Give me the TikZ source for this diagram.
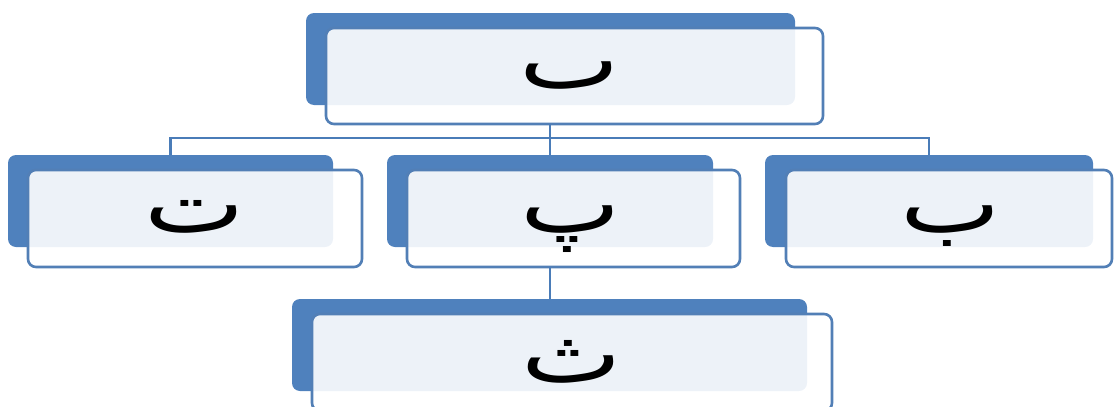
\documentclass[tikz,border=0pt]{standalone}
\usepackage{fontspec}
\newfontfamily\arabicfont[Script=Arabic]{DejaVu Sans}
\TeXXeTstate=1
\definecolor{shblue}{HTML}{4F81BD}
\definecolor{bdblue}{HTML}{527FB6}
\definecolor{lnblue}{HTML}{4A7CB8}
\newcommand{\gl}[1]{{\arabicfont\fontsize{82}{82}\selectfont\beginR #1\endR}}
\tikzset{
  shadowbox/.style={rectangle, rounded corners=8pt, fill=shblue, draw=none, inner sep=0pt, outer sep=0pt},
  frontbox/.style={rectangle, rounded corners=8pt, fill=white, fill opacity=0.9, draw=bdblue, draw opacity=1, line width=2.6pt, inner sep=0pt, outer sep=0pt},
  glyph/.style={anchor=base, inner sep=0pt, text=black, xscale=1.3},
  conn/.style={draw=lnblue, line width=2.4pt}
}
\begin{document}
\begin{tikzpicture}[x=1pt,y=-1pt]
\path[use as bounding box] (0,0) rectangle (1114,407);
\clip (0,0) rectangle (1114,407);
% top
\node[shadowbox, minimum width=489pt, minimum height=92pt] (tsh) at (550.5,59) {};
\node[frontbox, minimum width=497pt, minimum height=96pt] (tf) at (574.5,76) {};
% left
\node[shadowbox, minimum width=325pt, minimum height=92pt] (lsh) at (170.5,201) {};
\node[frontbox, minimum width=334pt, minimum height=97pt] (lf) at (195,218.5) {};
% middle
\node[shadowbox, minimum width=326pt, minimum height=92pt] (msh) at (550,201) {};
\node[frontbox, minimum width=333pt, minimum height=97pt] (mf) at (573.5,218.5) {};
% right
\node[shadowbox, minimum width=328pt, minimum height=92pt] (rsh) at (929,201) {};
\node[frontbox, minimum width=326pt, minimum height=97pt] (rf) at (949,218.5) {};
% bottom
\node[shadowbox, minimum width=515pt, minimum height=92pt] (bsh) at (549.5,345) {};
\node[frontbox, minimum width=520pt, minimum height=97pt] (bf) at (572,362.5) {};
% connectors
\coordinate (bus) at (550,138);
\draw[conn] (bus |- tf.south) -- (bus);
\draw[conn] (lsh.north) |- (bus) -| (rsh.north);
\draw[conn] (bus) -- (bus |- msh.north);
\draw[conn] (bus |- mf.south) -- (bus |- bsh.north);
% glyphs
\node[glyph] (tt) at (570,88) {\gl{ٮ}};
\node[glyph] (lt) at (195,232) {\gl{ت}};
\node[glyph] (mt) at (571,232) {\gl{پ}};
\node[glyph] (rt) at (951,232) {\gl{ب}};
\node[glyph] (bt) at (572,382) {\gl{ث}};
\end{tikzpicture}
\end{document}
